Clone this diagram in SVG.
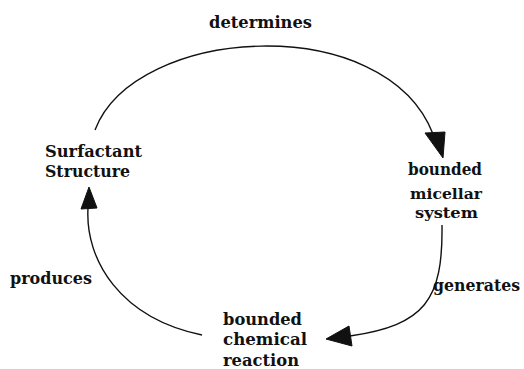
<svg xmlns="http://www.w3.org/2000/svg" width="524" height="369" viewBox="0 0 524 369">
<style>
text{font-family:"DejaVu Serif","Liberation Serif",serif;font-weight:bold;font-size:16px;fill:#111}
.s{font-size:15px}
.c{fill:none;stroke:#111;stroke-width:1.4}
.h{fill:#111;stroke:#111;stroke-width:1;stroke-linejoin:round}
</style>
<rect width="524" height="369" fill="#fff"/>
<g id="connectors">
<path class="c" d="M95,130 C135,25 385,10 433,134"/>
<polygon class="h" points="425,133 445,132 443,158"/>
<text x="209" y="28" textLength="103" lengthAdjust="spacingAndGlyphs">determines</text>
<path class="c" d="M442,225 C443,300 425,325 350,336"/>
<polygon class="h" points="326,339 349,326 352,346"/>
<text x="433" y="291" textLength="87" lengthAdjust="spacingAndGlyphs">generates</text>
<path class="c" d="M202,335 C120,318 85,260 88,208"/>
<polygon class="h" points="89,187 81,209 97,208"/>
<text x="10" y="284" textLength="82" lengthAdjust="spacingAndGlyphs">produces</text>
</g>
<g id="surfactant-structure">
<text x="45" y="157" textLength="97" lengthAdjust="spacingAndGlyphs">Surfactant</text>
<text x="45" y="177" textLength="85" lengthAdjust="spacingAndGlyphs">Structure</text>
</g>
<g id="bounded-micellar-system">
<text x="408" y="175" textLength="74" lengthAdjust="spacingAndGlyphs">bounded</text>
<text class="s" x="410" y="199" textLength="72" lengthAdjust="spacingAndGlyphs">micellar</text>
<text class="s" x="415" y="218" textLength="63" lengthAdjust="spacingAndGlyphs">system</text>
</g>
<g id="bounded-chemical-reaction">
<text x="223" y="325" textLength="79" lengthAdjust="spacingAndGlyphs">bounded</text>
<text x="223" y="345" textLength="84" lengthAdjust="spacingAndGlyphs">chemical</text>
<text x="223" y="366" textLength="76" lengthAdjust="spacingAndGlyphs">reaction</text>
</g>
</svg>
